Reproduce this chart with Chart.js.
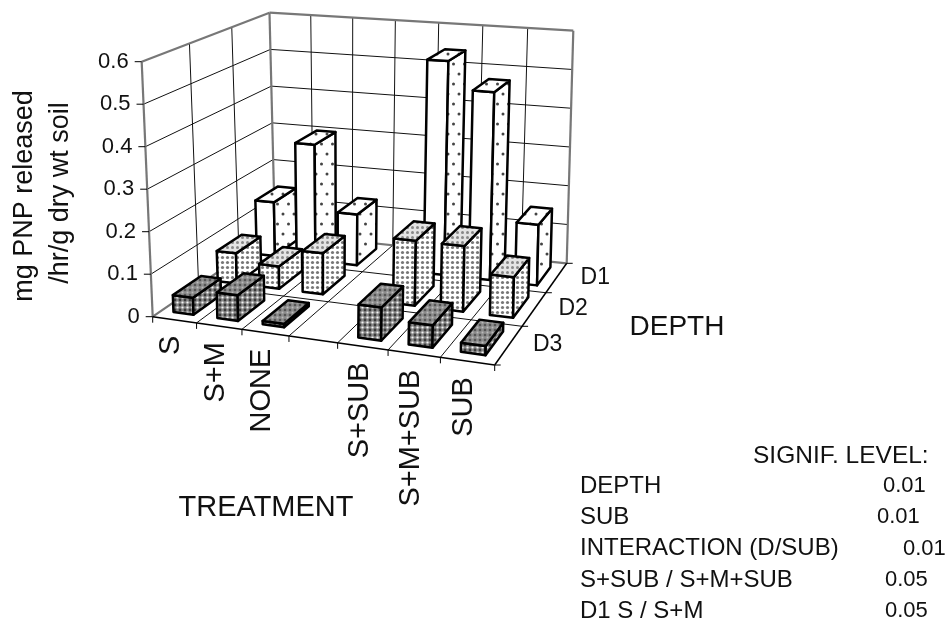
<!DOCTYPE html>
<html>
<head>
<meta charset="utf-8">
<style>html,body{margin:0;padding:0;background:#fff}canvas{display:block}</style>
<script src="https://cdn.jsdelivr.net/npm/chart.js"></script>
</head>
<body>
<canvas id="c" width="951" height="621"></canvas>
<script>
const treatments = ['S', 'S+M', 'NONE', '', 'S+SUB', 'S+M+SUB', 'SUB'];
const depths = ['D1', 'D2', 'D3'];
const valueTicks = [0, 0.1, 0.2, 0.3, 0.4, 0.5, 0.6];
const d1Values = [0.14, 0.30, 0.13, null, 0.54, 0.47, 0.15];
const d2Values = [0.075, 0.055, 0.10, null, 0.155, 0.155, 0.095];
const d3Values = [0.04, 0.06, 0.008, null, 0.075, 0.05, 0.02];
const signifNames = ['DEPTH', 'SUB', 'INTERACTION (D/SUB)', 'S+SUB / S+M+SUB', 'D1 S / S+M'];
const signifLevels = ['0.01', '0.01', '0.01', '0.05', '0.05'];
const signifLevelX = [883, 877, 903, 885, 885];

const FONT = '"Liberation Sans", Arial, sans-serif';

// box corners on screen: front-left, front-right, back-right, back-left
const floorQuad = [[152.7, 316.7], [494.7, 365], [566.7, 263.3], [275, 233]];
const topQuad = [[141.7, 61.7], [499, 87], [573.3, 30.7], [269.5, 12.7]];

function makeHomography(q) {
    const [[x0, y0], [x1, y1], [x2, y2], [x3, y3]] = q;
    const dx1 = x1 - x2, dx2 = x3 - x2, sx = x0 - x1 + x2 - x3;
    const dy1 = y1 - y2, dy2 = y3 - y2, sy = y0 - y1 + y2 - y3;
    const den = dx1 * dy2 - dx2 * dy1;
    const g = (sx * dy2 - dx2 * sy) / den, h = (dx1 * sy - sx * dy1) / den;
    const a = x1 - x0 + g * x1, b = x3 - x0 + h * x3;
    const d = y1 - y0 + g * y1, e = y3 - y0 + h * y3;
    return (u, w) => {
        const k = g * u + h * w + 1;
        return [(a * u + b * w + x0) / k, (d * u + e * w + y0) / k];
    };
}
const floorMap = makeHomography(floorQuad);
const topMap = makeHomography(topQuad);

// u across treatments, w front to back, h up, all 0..1
function project(u, w, h) {
    const f = floorMap(u, w), t = topMap(u, w);
    return [f[0] + (t[0] - f[0]) * h, f[1] + (t[1] - f[1]) * h];
}

// the hidden scales give the 0..1 fractions fed to project()
function fracX(chart, id, value) {
    const a = chart.chartArea;
    return (chart.scales[id].getPixelForValue(value) - a.left) / (a.right - a.left);
}
function fracY(chart, value) {
    const a = chart.chartArea;
    return (a.bottom - chart.scales.y.getPixelForValue(value)) / (a.bottom - a.top);
}

function makeTile(w, h, bg, dots) {
    const cv = document.createElement('canvas');
    cv.width = w; cv.height = h;
    const g = cv.getContext('2d');
    g.fillStyle = bg;
    g.fillRect(0, 0, w, h);
    dots.forEach(([x, y, r, col]) => {
        g.fillStyle = col;
        g.beginPath();
        g.arc(x, y, r, 0, Math.PI * 2);
        g.fill();
    });
    return document.getElementById('c').getContext('2d').createPattern(cv, 'repeat');
}

const corners = (r, col) => [[0, 0, r, col], [5, 0, r, col], [0, 5, r, col], [5, 5, r, col]];
const sparse = makeTile(11, 20, '#fff', [[2.5, 4, 1.5, '#444'], [8, 14, 1.5, '#444']]);
const medium = makeTile(5, 5, '#fff', [[2.5, 2.5, 1.6, '#777']]);
const mediumTop = makeTile(5, 5, '#e4e4e4', [[2.5, 2.5, 1.5, '#888']]);
const dense = makeTile(5, 5, '#8a8a8a', [[2.5, 2.5, 1.1, '#f4f4f4']].concat(corners(1.4, '#3a3a3a')));
const denseTop = makeTile(5, 5, '#8c8c8c', [[2.5, 2.5, 1, '#bbb']].concat(corners(1.3, '#555')));
const faceFills = {
    D1: {front: '#fff', side: sparse, top: sparse},
    D2: {front: medium, side: medium, top: mediumTop},
    D3: {front: dense, side: dense, top: denseTop}
};

function face(ctx, pts, fill) {
    ctx.beginPath();
    pts.forEach((p, i) => (i ? ctx.lineTo(p[0], p[1]) : ctx.moveTo(p[0], p[1])));
    ctx.closePath();
    ctx.fillStyle = fill;
    ctx.fill();
    ctx.stroke();
}

class Bar3DController extends Chart.BarController {
    draw() {
        const chart = this.chart, ctx = chart.ctx;
        const ds = this.getDataset();
        const du = 0.46 / treatments.length / 2, dw = 0.62 / depths.length / 2;
        const w = fracX(chart, 'depth', depths.indexOf(ds.label));
        const fill = faceFills[ds.label];
        ctx.save();
        ctx.strokeStyle = '#000';
        ctx.lineWidth = 2.5;
        ctx.lineJoin = 'round';
        ds.data.forEach((val, i) => {
            if (val === null) return;
            const u = fracX(chart, 'x', i);
            const h = fracY(chart, val);
            const u0 = u - du, u1 = u + du, w0 = w - dw, w1 = w + dw;
            face(ctx, [project(u0, w0, 0), project(u1, w0, 0), project(u1, w0, h), project(u0, w0, h)], fill.front);
            face(ctx, [project(u1, w0, 0), project(u1, w1, 0), project(u1, w1, h), project(u1, w0, h)], fill.side);
            face(ctx, [project(u0, w0, h), project(u1, w0, h), project(u1, w1, h), project(u0, w1, h)], fill.top);
        });
        ctx.restore();
    }
}
Bar3DController.id = 'bar3d';
Bar3DController.defaults = Chart.BarController.defaults;
Bar3DController.overrides = Chart.BarController.overrides;
Chart.register(Bar3DController);

function seg(ctx, a, b) {
    ctx.beginPath();
    ctx.moveTo(a[0], a[1]);
    ctx.lineTo(b[0], b[1]);
    ctx.stroke();
}

function text(ctx, str, x, y, size, align, rotate) {
    ctx.save();
    ctx.translate(x, y);
    if (rotate) ctx.rotate(-Math.PI / 2);
    ctx.font = size + 'px ' + FONT;
    ctx.textAlign = align || 'left';
    ctx.textBaseline = 'middle';
    ctx.fillStyle = '#111';
    ctx.fillText(str, 0, 0);
    ctx.restore();
}

const boxPlugin = {
    id: 'box3d',
    beforeDatasetsDraw(chart) {
        const ctx = chart.ctx;
        const yScale = chart.scales.y;
        const nT = treatments.length, nD = depths.length;
        ctx.save();
        ctx.lineWidth = 1;
        ctx.strokeStyle = '#111';
        // wall and floor grid
        yScale.ticks.forEach((t) => {
            const h = fracY(chart, t.value);
            if (h > 0 && h < 1) {
                seg(ctx, project(0, 0, h), project(0, 1, h));
                seg(ctx, project(0, 1, h), project(1, 1, h));
            }
        });
        for (let i = 1; i < nT; i++) {
            seg(ctx, project(i / nT, 1, 0), project(i / nT, 1, 1));
            seg(ctx, project(i / nT, 0, 0), project(i / nT, 1, 0));
        }
        for (let j = 1; j < nD; j++) {
            seg(ctx, project(0, j / nD, 0), project(0, j / nD, 1));
            seg(ctx, project(0, j / nD, 0), project(1, j / nD, 0));
        }
        // frame
        ctx.strokeStyle = '#777';
        ctx.lineWidth = 2.2;
        seg(ctx, project(0, 0, 1), project(0, 1, 1));
        seg(ctx, project(0, 1, 1), project(1, 1, 1));
        seg(ctx, project(0, 1, 0), project(0, 1, 1));
        seg(ctx, project(1, 1, 0), project(1, 1, 1));
        seg(ctx, project(0, 0, 0), project(0, 1, 0));
        seg(ctx, project(0, 1, 0), project(1, 1, 0));
        seg(ctx, project(0, 0, 0), project(0, 0, 1));
        // near edges and ticks
        ctx.strokeStyle = '#000';
        ctx.lineWidth = 1.5;
        seg(ctx, project(0, 0, 0), project(1, 0, 0));
        seg(ctx, project(1, 0, 0), project(1, 1, 0));
        ctx.lineWidth = 1;
        for (let i = 0; i <= nT; i++) {
            const p = project(i / nT, 0, 0);
            seg(ctx, p, [p[0], p[1] + 6]);
        }
        for (let j = 0; j <= nD; j++) {
            const p = project(1, j / nD, 0);
            seg(ctx, p, [p[0] + 6, p[1]]);
        }
        yScale.ticks.forEach((t) => {
            const p = project(0, 0, fracY(chart, t.value));
            seg(ctx, p, [p[0] - 7, p[1]]);
            text(ctx, t.label, p[0] - 13, p[1], 22, 'right');
        });
        ctx.restore();
    },
    afterDatasetsDraw(chart) {
        const ctx = chart.ctx;
        treatments.forEach((name, i) => {
            const p = project(fracX(chart, 'x', i), 0, 0);
            if (name) text(ctx, chart.scales.x.getLabelForValue(i), p[0] - 3, p[1] + 16, 29, 'right', true);
        });
        depths.forEach((name, j) => {
            const p = project(1, fracX(chart, 'depth', j), 0);
            text(ctx, chart.scales.depth.getLabelForValue(j), p[0] + 24, p[1] + 0, 23, 'left');
        });
        text(ctx, 'mg PNP released', 25, 196, 27, 'center', true);
        text(ctx, '/hr/g dry wt soil', 61, 193, 27, 'center', true);
        text(ctx, 'TREATMENT', 266, 508, 29, 'center');
        text(ctx, 'DEPTH', 677, 327, 28, 'center');
        text(ctx, 'SIGNIF. LEVEL:', 753, 456, 24.5);
        signifNames.forEach((name, k) => {
            const y = 486 + k * 31.3;
            text(ctx, name, 580, y, 24);
            text(ctx, signifLevels[k], signifLevelX[k], y, 22);
        });
    }
};

new Chart(document.getElementById('c'), {
    type: 'bar3d',
    data: {
        labels: treatments,
        datasets: [
            {label: 'D1', data: d1Values, order: 2},
            {label: 'D2', data: d2Values, order: 1},
            {label: 'D3', data: d3Values, order: 0}
        ]
    },
    options: {
        responsive: false,
        animation: false,
        layout: {padding: 10},
        plugins: {legend: {display: false}, tooltip: {enabled: false}},
        scales: {
            x: {type: 'category', offset: true, display: false},
            depth: {type: 'category', axis: 'x', labels: depths, offset: true, reverse: true, display: false},
            y: {
                type: 'linear', min: valueTicks[0], max: valueTicks[valueTicks.length - 1], display: false,
                afterBuildTicks: (s) => { s.ticks = valueTicks.map((v) => ({value: v})); },
                ticks: {callback: (v) => String(v)}
            }
        }
    },
    plugins: [boxPlugin]
});
</script>
</body>
</html>
